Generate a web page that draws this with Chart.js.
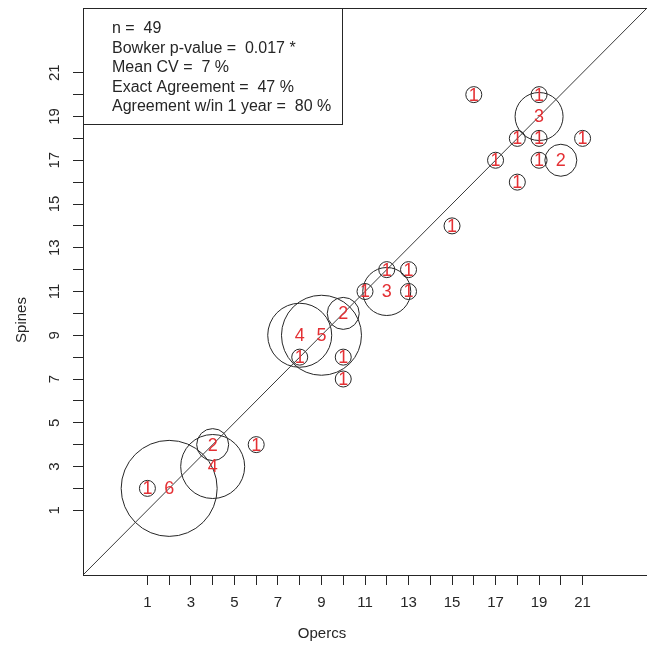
<!DOCTYPE html>
<html>
<head>
<meta charset="utf-8">
<script src="https://cdn.jsdelivr.net/npm/chart.js@4.4.0/dist/chart.umd.min.js"></script>
<style>
  html, body { margin: 0; padding: 0; background: #fff; }
  #wrap { width: 647px; height: 657px; }
</style>
</head>
<body>
<div id="wrap"><canvas id="bubbleChart" width="647" height="657"></canvas></div>
<script>
// Paires d'âges : Opercs (x), Spines (y) et nombre de poissons
const opercs = [1, 2, 4, 4, 6, 8, 8, 9, 10, 10, 10, 11, 12, 12, 13, 13, 15, 16, 17, 18, 18, 19, 19, 19, 19, 20, 21];
const spines = [2, 2, 3, 4, 4, 8, 9, 9, 10, 8, 7, 11, 11, 12, 12, 11, 14, 20, 17, 18, 16, 20, 19, 18, 17, 17, 18];
const counts = [1, 6, 4, 2, 1, 1, 4, 5, 2, 1, 1, 1, 3, 1, 1, 1, 1, 1, 1, 1, 1, 1, 3, 1, 1, 2, 1];

// Graduations (étiquettes seulement sur les impairs)
const tickValues = [1, 2, 3, 4, 5, 6, 7, 8, 9, 10, 11, 12, 13, 14, 15, 16, 17, 18, 19, 20, 21];

// Texte de l'encadré des statistiques
const statLines = [
    'n =  49',
    'Bowker p-value =  0.017 *',
    'Mean CV =  7 %',
    'Exact Agreement =  47 %',
    'Agreement w/in 1 year =  80 %'
];
const xTitle = 'Opercs';
const yTitle = 'Spines';

const axisMin = -1.96;
const axisMax = 23.96;
const fontFamily = '"Liberation Sans", Arial, sans-serif';
const inkColor = '#262626';
const countColor = 'rgb(228, 48, 52)';

// Cadre, étiquettes de l'axe y, titres, nombres rouges et encadré
const decorPlugin = {
    id: 'decor',
    afterDatasetsDraw(chart) {
        const { ctx, chartArea, scales } = chart;
        ctx.save();

        // cadre du graphique (le bord droit sort du canevas)
        ctx.strokeStyle = inkColor;
        ctx.lineWidth = 1;
        ctx.strokeRect(Math.round(chartArea.left) + 0.5, Math.round(chartArea.top) + 0.5,
            chartArea.right - chartArea.left + 4, Math.round(chartArea.bottom - chartArea.top));

        // nombres au centre des cercles
        ctx.fillStyle = countColor;
        ctx.font = '18px ' + fontFamily;
        ctx.textAlign = 'center';
        ctx.textBaseline = 'middle';
        counts.forEach((n, i) => {
            const px = scales.x.getPixelForValue(opercs[i]);
            const py = scales.y.getPixelForValue(spines[i]);
            ctx.fillText(String(n), px, py + 1);
        });

        // étiquettes de l'axe y, tournées comme dans R
        ctx.fillStyle = inkColor;
        ctx.font = '15px ' + fontFamily;
        tickValues.filter(v => v % 2 === 1).forEach(v => {
            const py = scales.y.getPixelForValue(v);
            ctx.save();
            ctx.translate(55, py);
            ctx.rotate(-Math.PI / 2);
            ctx.fillText(String(v), 0, 0);
            ctx.restore();
        });

        // titres des axes
        ctx.fillText(xTitle, 322, 634);
        ctx.save();
        ctx.translate(22, 320);
        ctx.rotate(-Math.PI / 2);
        ctx.fillText(yTitle, 0, 0);
        ctx.restore();

        // encadré des statistiques
        const boxRight = 342;
        const boxBottom = 124;
        ctx.fillStyle = '#fff';
        ctx.fillRect(chartArea.left + 1, chartArea.top + 1, boxRight - chartArea.left - 1, boxBottom - chartArea.top - 1);
        ctx.strokeStyle = inkColor;
        ctx.strokeRect(Math.round(chartArea.left) + 0.5, Math.round(chartArea.top) + 0.5,
            boxRight - Math.round(chartArea.left), boxBottom - Math.round(chartArea.top));
        ctx.fillStyle = inkColor;
        ctx.font = '16px ' + fontFamily;
        ctx.textAlign = 'left';
        statLines.forEach((line, i) => {
            ctx.fillText(line, 112, 29 + i * 19.5);
        });

        ctx.restore();
    }
};

const ctx = document.getElementById('bubbleChart').getContext('2d');
const bubbleChart = new Chart(ctx, {
    type: 'scatter',
    data: {
        datasets: [
            {
                // droite 1:1
                type: 'line',
                data: [{ x: axisMin, y: axisMin }, { x: axisMax, y: axisMax }],
                borderColor: '#3a3a3a',
                borderWidth: 1,
                pointRadius: 0,
                fill: false
            },
            {
                data: opercs.map((x, i) => ({ x: x, y: spines[i] })),
                pointRadius: c => 8 * counts[c.dataIndex],
                backgroundColor: 'transparent',
                borderColor: inkColor,
                borderWidth: 1
            }
        ]
    },
    options: {
        responsive: false,
        animation: false,
        events: [],
        layout: { autoPadding: false, padding: { top: 8, right: 0, bottom: 0, left: 0 } },
        plugins: {
            legend: { display: false },
            tooltip: { enabled: false }
        },
        scales: {
            x: {
                type: 'linear',
                min: axisMin,
                max: axisMax,
                afterBuildTicks: s => { s.ticks = tickValues.map(v => ({ value: v })); },
                afterFit: s => { s.height = 82; },
                border: { display: false },
                grid: { drawOnChartArea: false, drawTicks: true, tickLength: 10, color: inkColor, lineWidth: 1 },
                ticks: {
                    autoSkip: false,
                    maxRotation: 0,
                    padding: 9,
                    color: inkColor,
                    font: { family: fontFamily, size: 15 },
                    callback: v => (v % 2 === 1 ? String(v) : '')
                }
            },
            y: {
                type: 'linear',
                min: axisMin,
                max: axisMax,
                afterBuildTicks: s => { s.ticks = tickValues.map(v => ({ value: v })); },
                afterFit: s => { s.width = 83; },
                border: { display: false },
                grid: { drawOnChartArea: false, drawTicks: true, tickLength: 10, color: inkColor, lineWidth: 1 },
                ticks: { display: false }
            }
        }
    },
    plugins: [decorPlugin]
});
</script>
</body>
</html>
